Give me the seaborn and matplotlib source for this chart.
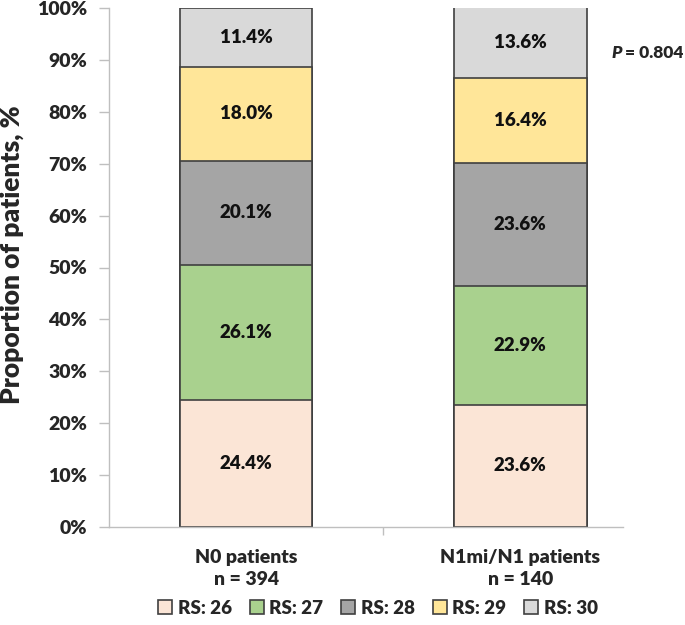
import matplotlib
matplotlib.use("Agg")
import matplotlib.pyplot as plt
import seaborn as sns
import numpy as np
import pandas as pd
from matplotlib.patches import Patch
from matplotlib.ticker import PercentFormatter

# Данные
groups = ["N0 patients\nn = 394", "N1mi/N1 patients\nn = 140"]
scores = ["RS: 26", "RS: 27", "RS: 28", "RS: 29", "RS: 30"]
n0_values = [24.4, 26.1, 20.1, 18.0, 11.4]
n1_values = [23.6, 22.9, 23.6, 16.4, 13.6]
p_value = "0.804"

colors = ["#FBE5D6", "#A9D18E", "#A5A5A5", "#FFE699", "#D9D9D9"]
edge = "#404040"
W = 800  # насыщенность шрифта

sns.set_theme(style="white")
plt.rcParams["font.family"] = ["Lato", "DejaVu Sans"]
plt.rcParams["font.weight"] = W

df = pd.DataFrame({"group": groups, **{s: [a, b] for s, a, b in zip(scores, n0_values, n1_values)}})
cum = df[scores].cumsum(axis=1)

fig = plt.figure(figsize=(6.85, 6.25), dpi=100)
ax = fig.add_axes([109 / 685, 1 - 527 / 625, 514 / 685, 519 / 625])

# Рисуем накопленные столбцы сверху вниз
for i in reversed(range(len(scores))):
    sns.barplot(x=df["group"], y=cum[scores[i]], order=groups, color=colors[i],
                width=0.484, edgecolor=edge, linewidth=1.2, saturation=1, ax=ax)

# Подписи сегментов
for gi in range(len(groups)):
    for i, s in enumerate(scores):
        top = cum.loc[gi, s]
        h = df.loc[gi, s]
        ax.text(gi, top - h / 2, f"{h:.1f}%", ha="center", va="center",
                fontsize=13.5, fontweight=W, color="#111111")

ax.set_xlim(-0.5, 1.375)
ax.set_ylim(0, 100)
ax.set_yticks(np.arange(0, 101, 10))
ax.yaxis.set_major_formatter(PercentFormatter(decimals=0))
ax.set_xticks([0, 1])
ax.set_xticklabels(groups, fontsize=14, fontweight=W, linespacing=1.35)
ax.set_xticks([0.5], minor=True)
ax.tick_params(axis="x", which="major", length=0, pad=16)
ax.tick_params(axis="x", which="minor", length=6, color="#BFBFBF", width=1, direction="out", bottom=True)
ax.tick_params(axis="y", length=7, color="#BFBFBF", width=1, direction="out", left=True, pad=9,
               labelsize=14)
for lab in ax.get_yticklabels():
    lab.set_fontweight(W)
ax.set_xlabel("")
ax.set_ylabel("Proportion of patients, %", fontsize=19, fontweight=W)
ax.yaxis.set_label_coords(-0.165, 0.524)

for side in ["top", "right"]:
    ax.spines[side].set_visible(False)
for side in ["left", "bottom"]:
    ax.spines[side].set_color("#BFBFBF")
    ax.spines[side].set_linewidth(1)

# P-значение
fig.text(612 / 685, 1 - 53 / 625, "P", fontsize=12.5, fontweight=W, style="italic", va="center")
fig.text(683 / 685, 1 - 53 / 625, "= " + p_value, fontsize=12.5, fontweight=W, va="center", ha="right")

# Легенда
handles = [Patch(facecolor=c, edgecolor=edge, linewidth=1.2) for c in colors]
fig.legend(handles, scores, loc="center", bbox_to_anchor=(378 / 685, 1 - 608 / 625), ncol=5,
           frameon=False, handlelength=0.75, handleheight=0.75,
           handletextpad=0.3, columnspacing=0.95, prop={"weight": W, "size": 13.5})

fig.savefig("out.png", dpi=100, facecolor="white")
